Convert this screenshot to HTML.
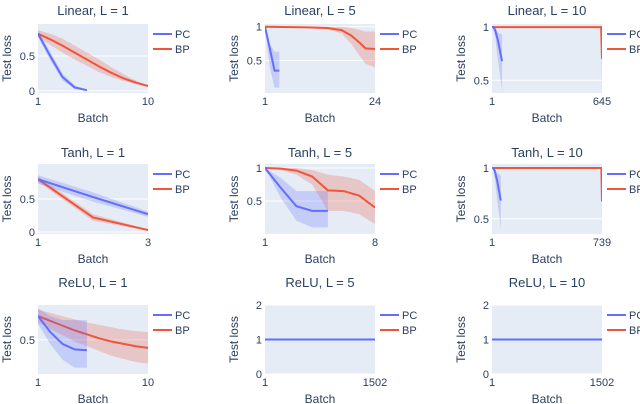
<!DOCTYPE html>
<html><head><meta charset="utf-8"><style>
body{margin:0;background:#fff;}
svg{display:block;font-family:"Liberation Sans",sans-serif;}
</style></head><body>
<svg id="fig" width="640" height="404" viewBox="0 0 640 404"></svg>
<script>
// ---- data ----
const titles = ["Linear, L = 1","Linear, L = 5","Linear, L = 10","Tanh, L = 1","Tanh, L = 5","Tanh, L = 10","ReLU, L = 1","ReLU, L = 5","ReLU, L = 10"];
const xMax = [10,24,645,3,8,739,10,1502,1502];
const yRanges = [[-0.03,0.96],[0.02,1.04],[0.38,1.03],[-0.03,1.03],[0.0,1.06],[0.35,1.04],[0.07,0.94],[0,2],[0,2]];
const yTicks = [[0,0.5],[0.5,1],[0.5,1],[0,0.5],[0.5,1],[0.5,1],[0.5],[0,1,2],[0,1,2]];
// PC series
const pcX = [[1,2,3,4,5],[1,2,3,4],[1,10,20,35,60],[1,2,3],[1,2,3,4,5],[1,10,20,35,60],[1,2,3,4,5],[1,1502],[1,1502]];
const pcY = [[0.82,0.5,0.2,0.05,0.01],[1,0.68,0.35,0.35],[1,1,0.97,0.88,0.68],[0.8,0.53,0.27],[1,0.7,0.42,0.35,0.35],[1,1,0.97,0.88,0.68],[0.8,0.6,0.45,0.38,0.37],[1,1],[1,1]];
const pcLo = [[0.78,0.44,0.15,0.03,0.0],[1,0.4,0.1,0.1],[1,0.98,0.9,0.7,0.4],[0.73,0.46,0.23],[1,0.55,0.2,0.1,0.1],[1,0.98,0.9,0.7,0.4],[0.7,0.45,0.25,0.15,0.15],[1,1],[1,1]];
const pcHi = [[0.87,0.56,0.25,0.08,0.02],[1,0.75,0.63,0.63],[1,1,1,0.95,0.93],[0.86,0.6,0.31],[1,0.85,0.65,0.65,0.65],[1,1,1,0.95,0.93],[0.9,0.8,0.75,0.75,0.75],[1,1],[1,1]];
// BP series
const bpX = [[1,2,3,4,5,6,7,8,9,10],[1,10,14,17,19,21,22,24],[1,640,645],[1,2,3],[1,2,3,4,5,6,7,8],[1,735,739],[1,2,3,4,5,6,7,8,9,10],[],[]];
const bpY = [[0.82,0.74,0.65,0.55,0.45,0.35,0.26,0.18,0.12,0.07],[1,0.99,0.98,0.95,0.87,0.75,0.68,0.67],[1,1,0.7],[0.8,0.22,0.03],[1,0.99,0.96,0.87,0.66,0.65,0.58,0.4],[1,1,0.67],[0.8,0.74,0.68,0.62,0.57,0.52,0.48,0.45,0.42,0.4],[],[]];
const bpLo = [[0.77,0.66,0.55,0.45,0.36,0.27,0.2,0.14,0.1,0.06],[1,0.98,0.96,0.9,0.75,0.55,0.45,0.4],[1,1,0.4],[0.76,0.17,0.02],[1,0.97,0.9,0.75,0.35,0.35,0.3,0.15],[1,1,0.4],[0.72,0.64,0.56,0.48,0.42,0.36,0.3,0.26,0.22,0.2],[],[]];
const bpHi = [[0.87,0.82,0.75,0.65,0.55,0.45,0.34,0.24,0.15,0.08],[1,1,1,1,0.98,0.95,0.93,0.93],[1,1,1],[0.84,0.27,0.04],[1,1,1,0.97,0.9,0.87,0.82,0.65],[1,1,1],[0.88,0.84,0.8,0.76,0.72,0.69,0.66,0.63,0.61,0.6],[],[]];

const NS="http://www.w3.org/2000/svg";
const svg=document.getElementById('fig');
function mk(tag,attrs,parent){const e=document.createElementNS(NS,tag);for(const k in attrs)e.setAttribute(k,attrs[k]);(parent||svg).appendChild(e);return e;}
const colX=[[38,148],[265,375],[492,602]];
const rowY=[[24,93],[164,234],[305,374]];
const rowTitle=[15,157,287];
const C="#2a3f5f", PC="#636efa", BP="#ef553b";
for(let i=0;i<9;i++){
  const c=i%3,r=Math.floor(i/3);
  const [x0,x1]=colX[c],[y0,y1]=rowY[r];
  const g=mk('g',{});
  
  
  const sx=v=>x0+(v-1)/(xMax[i]-1)*(x1-x0);
  const [ya,yb]=yRanges[i];
  const sy=v=>y1-(v-ya)/(yb-ya)*(y1-y0);
  const bg=mk('rect',{x:x0,y:y0,width:x1-x0,height:y1-y0,fill:'#e5ecf6'},g);
  
  yTicks[i].forEach(t=>{
    const yy=sy(t);
    mk('line',{x1:x0,x2:x1,y1:yy,y2:yy,stroke:'#fff','stroke-width':1},g);
    const tl=mk('text',{x:x0-3,y:yy+4,'text-anchor':'end','font-size':11,fill:C},g);tl.textContent=t;
    
  });
  [1,xMax[i]].forEach(t=>{
    const tl=mk('text',{x:sx(t),y:y1+12,'text-anchor':'middle','font-size':11,fill:C},g);tl.textContent=t;
    
  });
  const tt=mk('text',{x:(x0+x1)/2,y:rowTitle[r],'text-anchor':'middle','font-size':13,fill:C},g);tt.textContent=titles[i];
  
  const xt=mk('text',{x:(x0+x1)/2,y:y1+29,'text-anchor':'middle','font-size':12,fill:C},g);xt.textContent='Batch';
  
  const yx=x0-27+(c===0?0:0), ym=(y0+y1)/2;
  const yt=mk('text',{x:yx,y:ym,'text-anchor':'middle','font-size':12,fill:C,transform:`rotate(-90 ${yx} ${ym})`},g);yt.textContent='Test loss';
  
  const cp=mk('clipPath',{id:'cp'+i},g);mk('rect',{x:x0,y:y0,width:x1-x0,height:y1-y0},cp);
  const pg=mk('g',{'clip-path':`url(#cp${i})`},g);
  function series(X,Y,L,H,col,name){
    if(!X.length)return;
    let d='';X.forEach((x,k)=>d+=(k?'L':'M')+sx(x)+','+sy(H[k]));
    for(let k=X.length-1;k>=0;k--)d+='L'+sx(X[k])+','+sy(L[k]);
    const b=mk('path',{d:d+'Z',fill:col,'fill-opacity':0.25},pg);
    
    const p=mk('polyline',{points:X.map((x,k)=>sx(x)+','+sy(Y[k])).join(' '),fill:'none',stroke:col,'stroke-width':2},pg);
    
  }
  series(bpX[i],bpY[i],bpLo[i],bpHi[i],BP,'bp');
  series(pcX[i],pcY[i],pcLo[i],pcHi[i],PC,'pc');
  [[PC,'PC',10],[BP,'BP',25]].forEach(([col,lab,dy])=>{
    const lg=mk('g',{},g);
    
    mk('line',{x1:x1+5,x2:x1+24,y1:y0+dy,y2:y0+dy,stroke:col,'stroke-width':2},lg);
    const lt=mk('text',{x:x1+27,y:y0+dy+4,'font-size':11,fill:C},lg);lt.textContent=lab;
  });
}
</script>
</body></html>
